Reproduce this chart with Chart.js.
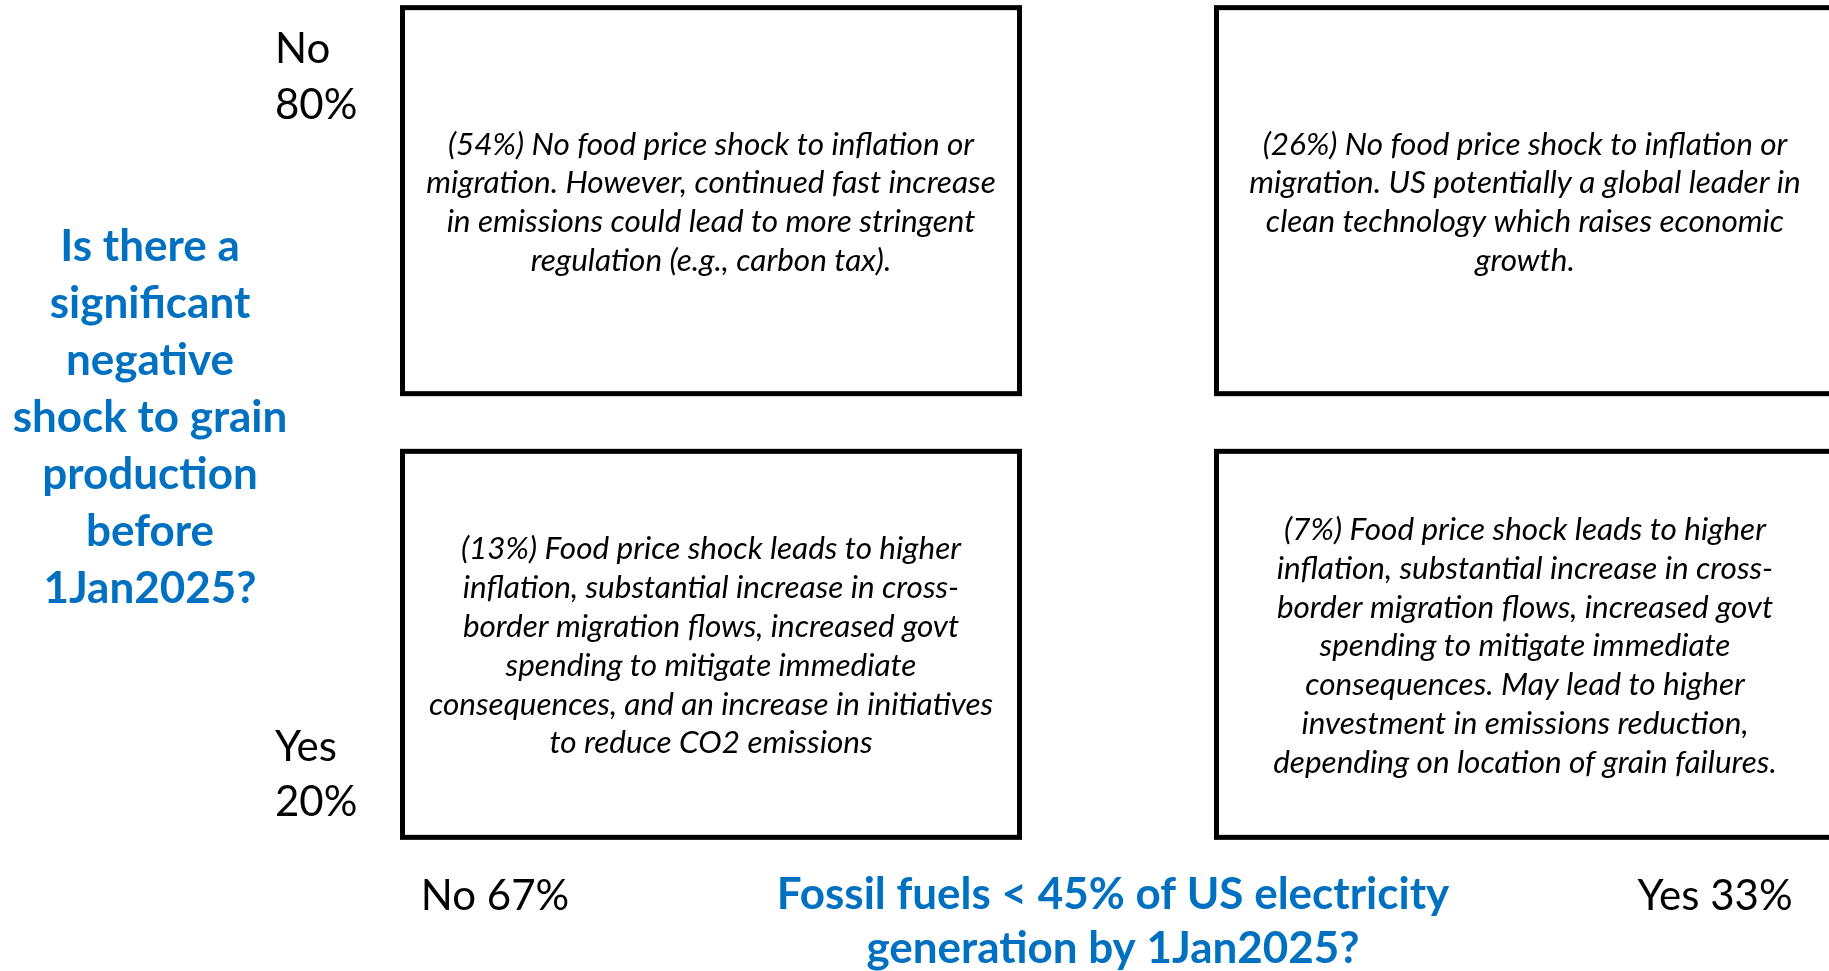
<!DOCTYPE html>
<html>
<head>
<meta charset="utf-8">
<script src="https://cdn.jsdelivr.net/npm/chart.js@4.4.0/dist/chart.umd.min.js"></script>
<style>
  html, body { margin: 0; padding: 0; background: #fff; overflow: hidden; }
  #matriz { display: block; }
</style>
</head>
<body>
<canvas id="matriz" width="1940" height="971"></canvas>
<script>
// outcomes of the two questions
const colLabels = ['No 67%', 'Yes 33%'];
const rowLabels = [['No', '80%'], ['Yes', '20%']];
const xTitle = ['Fossil fuels < 45% of US electricity', 'generation by 1Jan2025?'];
const yTitle = ['Is there a', 'significant', 'negative', 'shock to grain', 'production', 'before', '1Jan2025?'];

// the four scenarios (x: fossil fuels answer, y: grain shock answer)
const quadX = [0, 1, 0, 1];
const quadY = [1, 1, 0, 0];
const quadShare = [54, 26, 13, 7];
const quadText = [
    ['No food price shock to inflation or', 'migration. However, continued fast increase', 'in emissions could lead to more stringent', 'regulation (e.g., carbon tax).'],
    ['No food price shock to inflation or', 'migration. US potentially a global leader in', 'clean technology which raises economic', 'growth.'],
    ['Food price shock leads to higher', 'inflation, substantial increase in cross-', 'border migration flows, increased govt', 'spending to mitigate immediate', 'consequences, and an increase in initiatives', 'to reduce CO2 emissions'],
    ['Food price shock leads to higher', 'inflation, substantial increase in cross-', 'border migration flows, increased govt', 'spending to mitigate immediate', 'consequences. May lead to higher', 'investment in emissions reduction,', 'depending on location of grain failures.']
];

const azul = '#0070C0';
const fonte = 'Lato, "Open Sans", sans-serif';

const pontos = quadX.map(function (x, i) {
    return { x: x, y: quadY[i] };
});

const caixas = {
    id: 'caixas',
    afterDatasetsDraw: function (chart) {
        const c = chart.ctx;
        const sx = chart.scales.x;
        const sy = chart.scales.y;
        const area = chart.chartArea;
        c.save();

        // scenario boxes and their text
        pontos.forEach(function (p, i) {
            const x0 = sx.getPixelForValue(p.x - 0.379);
            const x1 = sx.getPixelForValue(p.x + 0.379);
            const y0 = sy.getPixelForValue(p.y + 0.435);
            const y1 = sy.getPixelForValue(p.y - 0.435);
            c.strokeStyle = '#000';
            c.lineWidth = 5;
            c.strokeRect(x0, y0, x1 - x0, y1 - y0);

            const linhas = quadText[i].slice();
            linhas[0] = '(' + quadShare[i] + '%) ' + linhas[0];
            const cx = (x0 + x1) / 2;
            const cy = (y0 + y1) / 2 + 2;
            const lh = 38.8;
            c.fillStyle = '#000';
            c.font = 'italic 31.5px ' + fonte;
            c.textAlign = 'center';
            c.textBaseline = 'middle';
            linhas.forEach(function (t, k) {
                c.fillText(t, cx, cy + (k - (linhas.length - 1) / 2) * lh, 575);
            });
        });

        // row labels
        c.font = '42px ' + fonte;
        c.textAlign = 'left';
        c.textBaseline = 'middle';
        c.fillStyle = '#000';
        const topo = sy.getPixelForValue(1 + 0.435);
        const base = sy.getPixelForValue(0 - 0.435);
        c.fillText(rowLabels[0][0], 275, topo + 42);
        c.fillText(rowLabels[0][1], 275, topo + 98);
        c.fillText(rowLabels[1][0], 275, base - 90);
        c.fillText(rowLabels[1][1], 275, base - 35);

        // column labels
        c.textAlign = 'center';
        c.fillText(colLabels[0], 495, area.bottom + 52);
        c.fillText(colLabels[1], 1715, area.bottom + 52);

        // axis questions
        c.font = 'bold 44px ' + fonte;
        c.fillStyle = azul;
        c.fillText(xTitle[0], 1113, area.bottom + 51);
        c.fillText(xTitle[1], 1113, area.bottom + 105);
        yTitle.forEach(function (t, k) {
            c.fillText(t, 150, 418 + (k - (yTitle.length - 1) / 2) * 57);
        });

        c.restore();
    }
};

new Chart(document.getElementById('matriz'), {
    type: 'scatter',
    data: {
        datasets: [{
            label: 'Cenários',
            data: pontos,
            pointRadius: 0,
            pointHoverRadius: 0
        }]
    },
    options: {
        responsive: false,
        animation: false,
        events: [],
        layout: {
            padding: { left: 304, right: 8, top: 1, bottom: 127 }
        },
        plugins: {
            legend: { display: false },
            tooltip: { enabled: false }
        },
        scales: {
            x: { type: 'linear', min: -0.5, max: 1.5, display: false },
            y: { type: 'linear', min: -0.45, max: 1.45, display: false }
        }
    },
    plugins: [caixas]
});
</script>
</body>
</html>
